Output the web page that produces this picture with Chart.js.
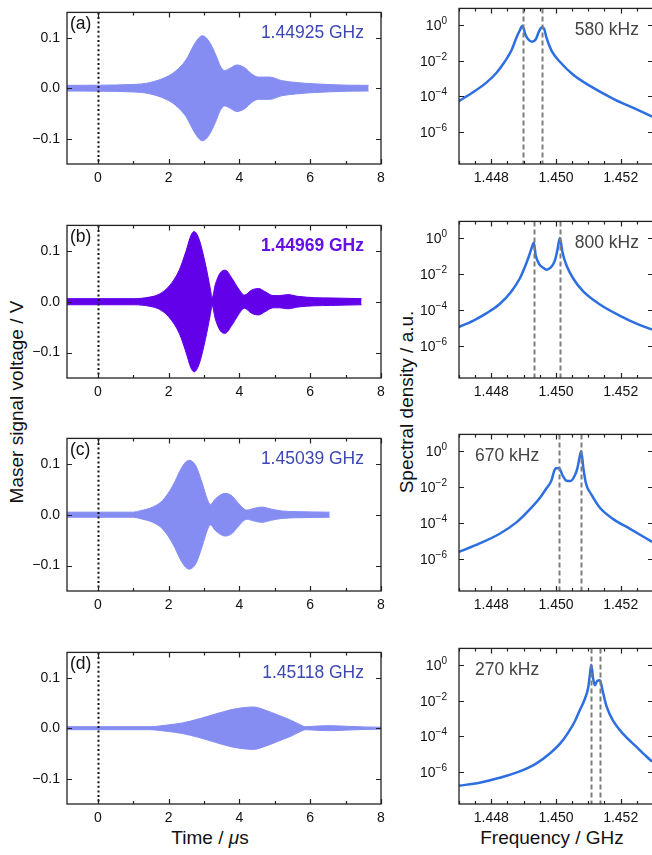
<!DOCTYPE html>
<html>
<head>
<meta charset="utf-8">
<script src="https://cdn.jsdelivr.net/npm/chart.js@4.4.1/dist/chart.umd.min.js"></script>
<style>
html, body { margin: 0; padding: 0; background: #fff; overflow: hidden; width: 652px; height: 855px; }
body { position: relative; font-family: "Liberation Sans", Arial, sans-serif; color: #111; }
canvas { position: absolute; }
.title { position: absolute; font-size: 19px; white-space: nowrap; transform: translate(-50%, -50%); }
.vtitle { position: absolute; font-size: 19px; white-space: nowrap; transform: translate(-50%, -50%) rotate(-90deg); }
</style>
</head>
<body>
<div class="vtitle" style="left:17px; top:402px;">Maser signal voltage / V</div>
<div class="vtitle" style="left:407px; top:402px;">Spectral density / a.u.</div>
<div class="title" style="left:210px; top:838px;">Time / <i>μ</i>s</div>
<div class="title" style="left:552px; top:838px;">Frequency / GHz</div>

<script>
// ---- time-domain envelopes (upper envelope, V) ----
const timeA = [-0.87, 1.0, 1.46, 1.93, 2.2, 2.49, 2.72, 2.86, 2.95, 3.14, 3.32, 3.46, 3.58, 3.70, 3.93, 4.16, 4.35, 4.54, 4.86, 5.19, 5.65, 6.12, 7.05, 7.65];
const envA  = [0.0056, 0.0074, 0.011, 0.022, 0.034, 0.056, 0.086, 0.100, 0.104, 0.093, 0.068, 0.044, 0.035, 0.038, 0.046, 0.040, 0.028, 0.022, 0.022, 0.015, 0.011, 0.0086, 0.006, 0.0056];

const timeB = [-0.87, 1.0, 1.46, 1.74, 2.02, 2.3, 2.49, 2.63, 2.72, 2.86, 3.04, 3.18, 3.23, 3.32, 3.46, 3.6, 3.79, 3.98, 4.14, 4.35, 4.54, 4.72, 4.95, 5.14, 5.37, 5.65, 6.12, 6.58, 7.45];
const envB  = [0.006, 0.006, 0.009, 0.015, 0.031, 0.062, 0.099, 0.13, 0.138, 0.123, 0.074, 0.025, 0.008, 0.034, 0.057, 0.062, 0.046, 0.025, 0.013, 0.023, 0.026, 0.02, 0.012, 0.012, 0.014, 0.0105, 0.008, 0.0074, 0.006];

const timeC = [-0.87, 1.0, 1.18, 1.55, 1.83, 2.11, 2.35, 2.49, 2.58, 2.77, 2.95, 3.09, 3.18, 3.32, 3.6, 3.79, 3.98, 4.21, 4.39, 4.63, 4.9, 5.19, 5.65, 6.55];
const envC  = [0.005, 0.005, 0.0074, 0.015, 0.028, 0.056, 0.09, 0.104, 0.107, 0.096, 0.062, 0.031, 0.02, 0.031, 0.042, 0.037, 0.022, 0.009, 0.012, 0.015, 0.011, 0.0074, 0.006, 0.005];

const timeD = [-0.87, 1.46, 1.93, 2.39, 2.86, 3.32, 3.79, 4.16, 4.39, 4.72, 5.09, 5.47, 5.74, 5.88, 6.21, 6.58, 7.05, 7.51, 8.0];
const envD  = [0.003, 0.003, 0.006, 0.0105, 0.0185, 0.028, 0.037, 0.041, 0.042, 0.036, 0.026, 0.0154, 0.006, 0.003, 0.0043, 0.005, 0.0037, 0.0025, 0.002];

// ---- spectra (GHz, a.u.) ----
const freqA = [1.446977, 1.447432, 1.447845, 1.448155, 1.448413, 1.448620, 1.448775, 1.448879, 1.448961, 1.449054, 1.449137, 1.449261, 1.449375, 1.449478, 1.449561, 1.449633, 1.449705, 1.449860, 1.450119, 1.450532, 1.451049, 1.451773, 1.452393, 1.452972];
const specA = [5.1e-5, 1.66e-4, 5.8e-4, 2.0e-3, 8.5e-3, 0.036, 0.19, 0.48, 0.89, 0.29, 0.155, 0.112, 0.155, 0.44, 0.72, 0.60, 0.19, 0.036, 8.5e-3, 1.6e-3, 3.8e-4, 7.2e-5, 2.2e-5, 7.2e-6];

const freqB = [1.446977, 1.447432, 1.447845, 1.448258, 1.448620, 1.448879, 1.449054, 1.449168, 1.449251, 1.449313, 1.449375, 1.449478, 1.449602, 1.449705, 1.449829, 1.449964, 1.450047, 1.450119, 1.450202, 1.450326, 1.450532, 1.450842, 1.451359, 1.451979, 1.452600, 1.452972];
const specB = [1.07e-5, 2.45e-5, 6.3e-5, 2.1e-4, 1.05e-3, 5.5e-3, 0.029, 0.102, 0.29, 0.54, 0.102, 0.035, 0.022, 0.017, 0.022, 0.054, 0.23, 1.0, 0.155, 0.029, 5.5e-3, 1.05e-3, 1.95e-4, 4.6e-5, 1.4e-5, 7.9e-6];

const freqC = [1.446977, 1.447638, 1.448258, 1.448775, 1.449189, 1.449499, 1.449705, 1.449860, 1.449933, 1.449995, 1.450098, 1.450202, 1.450326, 1.450450, 1.450584, 1.450656, 1.450718, 1.450780, 1.450842, 1.450925, 1.451101, 1.451359, 1.451773, 1.452289, 1.452972];
const specC = [2.3e-6, 7.1e-6, 2.45e-5, 1.05e-4, 5.6e-4, 2.4e-3, 8.3e-3, 0.023, 0.066, 0.11, 0.11, 0.044, 0.022, 0.021, 0.044, 0.1, 0.35, 1.0, 0.126, 0.016, 3.6e-3, 6.9e-4, 1.6e-4, 4.6e-5, 8.7e-6];

const freqD = [1.446977, 1.447638, 1.448258, 1.448879, 1.449395, 1.449809, 1.450119, 1.450377, 1.450584, 1.450739, 1.450894, 1.450997, 1.451049, 1.451090, 1.451152, 1.451204, 1.451276, 1.451359, 1.451442, 1.451566, 1.451773, 1.452083, 1.452496, 1.452806, 1.452972];
const specD = [1.66e-7, 2.5e-7, 4.7e-7, 1.07e-6, 3.0e-6, 1.07e-5, 3.7e-5, 1.6e-4, 6.9e-4, 2.95e-3, 0.0126, 0.054, 0.29, 1.0, 0.155, 0.072, 0.126, 0.135, 0.035, 4.5e-3, 6.9e-4, 1.3e-4, 2.45e-5, 7.1e-6, 3.8e-6];

// dashed lines: fitted line centres (GHz)
const peaksA = [1.448982, 1.449581];
const peaksB = [1.449313, 1.450129];
const peaksC = [1.450078, 1.450780];
const peaksD = [1.451090, 1.451370];

// ---- labels and ticks ----
const panelLetters = ['(a)', '(b)', '(c)', '(d)'];
const maserFreqs = ['1.44925 GHz', '1.44969 GHz', '1.45039 GHz', '1.45118 GHz'];
const splittings = ['580 kHz', '800 kHz', '670 kHz', '270 kHz'];
const timeTicks = [0, 1, 2, 3, 4, 5, 6, 7, 8];
const timeTickLabels = ['0', '', '2', '', '4', '', '6', '', '8'];
const voltTicks = [-0.1, 0, 0.1];
const voltTickLabels = ['\u22120.1', '0.0', '0.1'];
const freqTicks = [1.4470, 1.4475, 1.4480, 1.4485, 1.4490, 1.4495, 1.4500, 1.4505, 1.4510, 1.4515, 1.4520, 1.4525, 1.4530];
const freqTickLabels = ['', '', '1.448', '', '', '', '1.450', '', '', '', '1.452', '', ''];
const densTicks = [1e-6, 1e-4, 1e-2, 1];
const densExponents = ['\u22126', '\u22124', '\u22122', '0'];

const times = [timeA, timeB, timeC, timeD];
const envs = [envA, envB, envC, envD];
const freqs = [freqA, freqB, freqC, freqD];
const specs = [specA, specB, specC, specD];
const peaks = [peaksA, peaksB, peaksC, peaksD];

const rowTop = [3, 216, 429, 643];
const rowBottom = [164, 378, 591, 804];
const FONT = '"Liberation Sans", Arial, sans-serif';

Chart.defaults.font.family = FONT;
Chart.defaults.font.size = 14;
Chart.defaults.color = '#111';

const panelDeco = {
  id: 'panelDeco',
  afterDatasetsDraw(chart, args, o) {
    const ctx = chart.ctx, a = chart.chartArea, x = chart.scales.x, y = chart.scales.y;
    ctx.save();
    ctx.beginPath();
    ctx.rect(a.left, a.top, a.right - a.left, a.bottom - a.top);
    ctx.clip();
    o.vlines.forEach(v => {
      const px = Math.round(x.getPixelForValue(v)) + 0.5;
      ctx.beginPath();
      ctx.setLineDash(o.vlineDash);
      ctx.strokeStyle = o.vlineColor;
      ctx.lineWidth = o.vlineWidth;
      ctx.moveTo(px, a.top);
      ctx.lineTo(px, a.bottom);
      ctx.stroke();
    });
    ctx.restore();

    // frame
    ctx.save();
    ctx.strokeStyle = '#222';
    ctx.lineWidth = 1.3;
    ctx.strokeRect(a.left, a.top, a.right - a.left, a.bottom - a.top);
    // inward ticks
    ctx.lineWidth = 1.2;
    ctx.beginPath();
    x.ticks.forEach(t => {
      const px = Math.round(x.getPixelForValue(t.value)) + 0.5;
      const len = t.label !== '' ? 5 : 3;
      ctx.moveTo(px, a.bottom); ctx.lineTo(px, a.bottom - len);
      ctx.moveTo(px, a.top); ctx.lineTo(px, a.top + len);
    });
    y.ticks.forEach(t => {
      const py = Math.round(y.getPixelForValue(t.value)) + 0.5;
      ctx.moveTo(a.left, py); ctx.lineTo(a.left + 5, py);
      ctx.moveTo(a.right, py); ctx.lineTo(a.right - 5, py);
    });
    ctx.stroke();

    // log tick labels with superscript exponents
    if (o.exponents) {
      ctx.fillStyle = '#111';
      ctx.textBaseline = 'alphabetic';
      ctx.textAlign = 'right';
      y.ticks.forEach((t, i) => {
        const py = y.getPixelForValue(t.value);
        const ex = o.exponents[i];
        ctx.font = '10px ' + FONT;
        const ew = ctx.measureText(ex).width;
        const rx = a.left - 12;
        ctx.fillText(ex, rx, py - 1);
        ctx.font = '14px ' + FONT;
        ctx.fillText('10', rx - ew, py + 5);
      });
    }

    // annotations
    o.texts.forEach(s => {
      ctx.font = (s.bold ? 'bold ' : '') + '17.5px ' + FONT;
      ctx.fillStyle = s.color;
      ctx.textAlign = s.align;
      ctx.textBaseline = 'middle';
      const px = s.align === 'right' ? a.right - s.dx : a.left + s.dx;
      ctx.fillText(s.text, px, a.top + s.dy);
    });
    ctx.restore();
  }
};

function addCanvas(left, top, w, h) {
  const c = document.createElement('canvas');
  c.width = w; c.height = h;
  c.style.left = left + 'px'; c.style.top = top + 'px';
  c.style.width = w + 'px'; c.style.height = h + 'px';
  document.body.appendChild(c);
  return c;
}

function makeTimeChart(i) {
  const T = rowTop[i], B = rowBottom[i];
  const c = addCanvas(0, T - 6, 392, B - T + 6 + 34);
  const strong = i === 1;
  const fillCol = strong ? '#6200ea' : '#858df3';
  const upper = times[i].map((t, k) => ({ x: t, y: envs[i][k] }));
  const lower = times[i].map((t, k) => ({ x: t, y: -envs[i][k] }));
  new Chart(c, {
    type: 'line',
    data: {
      datasets: [
        { data: upper, fill: '+1', backgroundColor: fillCol, borderColor: fillCol, borderWidth: 1, pointRadius: 0, cubicInterpolationMode: 'monotone' },
        { data: lower, fill: false, borderColor: fillCol, borderWidth: 1, pointRadius: 0, cubicInterpolationMode: 'monotone' }
      ]
    },
    options: {
      responsive: false, animation: false, devicePixelRatio: 1,
      layout: { padding: { top: 6, right: 11, left: 0, bottom: 0 } },
      plugins: {
        legend: { display: false }, tooltip: { enabled: false },
        panelDeco: {
          vlines: [0], vlineDash: [2, 2.6], vlineColor: '#111', vlineWidth: 2,
          texts: [
            { text: panelLetters[i], color: '#111', align: 'left', dx: 3, dy: 12 },
            { text: maserFreqs[i], color: strong ? '#6410e6' : '#3d47b3', bold: strong, align: 'right', dx: 17, dy: 21 }
          ]
        }
      },
      scales: {
        x: {
          type: 'linear', min: -0.87, max: 8,
          grid: { display: false, drawTicks: false }, border: { display: false },
          afterBuildTicks: s => { s.ticks = timeTicks.map(v => ({ value: v })); },
          afterFit: s => { s.height = 34; },
          ticks: { autoSkip: false, maxRotation: 0, padding: 6, callback: (v, k) => timeTickLabels[k] }
        },
        y: {
          type: 'linear', min: -0.15, max: 0.15,
          grid: { display: false, drawTicks: false }, border: { display: false },
          afterBuildTicks: s => { s.ticks = voltTicks.map(v => ({ value: v })); },
          afterFit: s => { s.width = 67; },
          ticks: { padding: 7, callback: (v, k) => voltTickLabels[k] }
        }
      }
    },
    plugins: [panelDeco]
  });
}

function makeSpecChart(i) {
  const T = rowTop[i], B = rowBottom[i];
  const c = addCanvas(392, T - 6, 270, B - T + 6 + 34);
  const pts = freqs[i].map((f, k) => ({ x: f, y: specs[i][k] }));
  const leftText = i >= 2;
  new Chart(c, {
    type: 'line',
    data: {
      datasets: [
        { data: pts, fill: false, borderColor: '#2d6ee0', borderWidth: 2.5, pointRadius: 0, cubicInterpolationMode: 'monotone' }
      ]
    },
    options: {
      responsive: false, animation: false, devicePixelRatio: 1,
      layout: { padding: { top: 6, right: 9, left: 0, bottom: 0 } },
      plugins: {
        legend: { display: false }, tooltip: { enabled: false },
        panelDeco: {
          vlines: peaks[i], vlineDash: [5, 3], vlineColor: '#7c7c7c', vlineWidth: 2,
          exponents: densExponents,
          texts: [
            { text: splittings[i], color: '#444', align: leftText ? 'left' : 'right', dx: leftText ? 16 : 14, dy: 22 }
          ]
        }
      },
      scales: {
        x: {
          type: 'linear', min: 1.447, max: 1.453,
          grid: { display: false, drawTicks: false }, border: { display: false },
          afterBuildTicks: s => { s.ticks = freqTicks.map(v => ({ value: v })); },
          afterFit: s => { s.height = 34; },
          ticks: { autoSkip: false, maxRotation: 0, padding: 6, callback: (v, k) => freqTickLabels[k] }
        },
        y: {
          type: 'logarithmic', min: 1.6e-8, max: 8.3,
          grid: { display: false, drawTicks: false }, border: { display: false },
          afterBuildTicks: s => { s.ticks = densTicks.map(v => ({ value: v })); },
          afterFit: s => { s.width = 67; },
          ticks: { callback: () => '' }
        }
      }
    },
    plugins: [panelDeco]
  });
}

for (let i = 0; i < 4; i++) {
  makeTimeChart(i);
  makeSpecChart(i);
}
</script>
</body>
</html>
